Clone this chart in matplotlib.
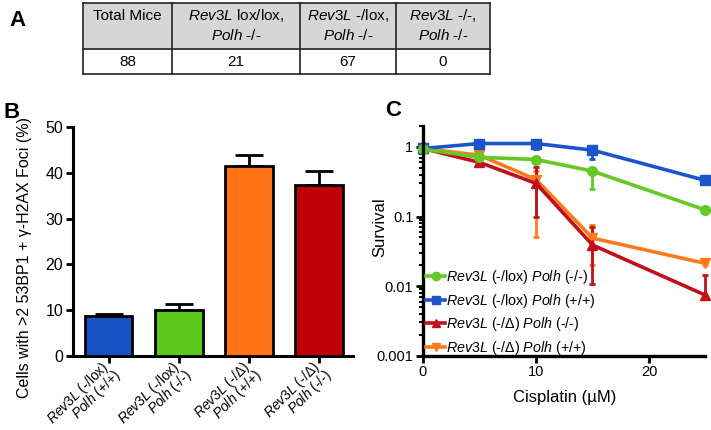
import matplotlib
matplotlib.use("Agg")
import matplotlib.pyplot as plt
from matplotlib.lines import Line2D
from matplotlib.patches import Rectangle
from matplotlib.transforms import ScaledTranslation
from matplotlib.ticker import FixedLocator, FixedFormatter, LogLocator, NullFormatter

plt.rcParams['font.family'] = ['Liberation Sans', 'DejaVu Sans']
plt.rcParams['mathtext.fontset'] = 'custom'
plt.rcParams['mathtext.rm'] = 'Liberation Sans'
plt.rcParams['mathtext.it'] = 'Liberation Sans:italic'

# ---------------------------------------------------------
# data
# ---------------------------------------------------------
# panel A: offspring genotypes
table_head_top = ["Total Mice", r"$\it{Rev3L}$ lox/lox,", r"$\it{Rev3L}$ -/lox,", r"$\it{Rev3L}$ -/-,"]
table_head_bottom = ["", r"$\it{Polh}$ -/-", r"$\it{Polh}$ -/-", r"$\it{Polh}$ -/-"]
table_counts = ["88", "21", "67", "0"]

# panel B: foci (two-line genotype labels)
bar_labels_rev3l = [r"$\it{Rev3L}$ (-/lox)", r"$\it{Rev3L}$ (-/lox)",
                    r"$\it{Rev3L}$ (-/$\Delta$)", r"$\it{Rev3L}$ (-/$\Delta$)"]
bar_labels_polh = [r"$\it{Polh}$ (+/+)", r"$\it{Polh}$ (-/-)",
                   r"$\it{Polh}$ (+/+)", r"$\it{Polh}$ (-/-)"]
bar_values = [8.8, 10.0, 41.4, 37.3]
bar_errors = [0.4, 1.3, 2.4, 3.0]
bar_colors = ["#1552c2", "#5cc81b", "#ff7216", "#c00008"]

# panel C: cisplatin survival
dose = [0, 5, 10, 15, 25]
green_surv = [0.93, 0.71, 0.66, 0.45, 0.124]
green_lo = [0.90, 0.68, 0.63, 0.25, 0.12]
green_hi = [0.96, 0.74, 0.69, 0.49, 0.128]
blue_surv = [0.95, 1.12, 1.12, 0.90, 0.33]
blue_lo = [0.92, 1.02, 0.93, 0.68, 0.32]
blue_hi = [0.98, 1.20, 1.25, 1.02, 0.35]
red_surv = [0.95, 0.60, 0.30, 0.039, 0.0074]
red_lo = [0.92, 0.55, 0.10, 0.0107, 0.0068]
red_hi = [0.98, 0.65, 0.52, 0.070, 0.0145]
orange_surv = [0.95, 0.76, 0.34, 0.049, 0.0212]
orange_lo = [0.92, 0.72, 0.05, 0.020, 0.020]
orange_hi = [0.98, 0.80, 0.45, 0.075, 0.0225]
surv_labels = [r"$\it{Rev3L}$ (-/lox) $\it{Polh}$ (-/-)",
               r"$\it{Rev3L}$ (-/lox) $\it{Polh}$ (+/+)",
               r"$\it{Rev3L}$ (-/$\Delta$) $\it{Polh}$ (-/-)",
               r"$\it{Rev3L}$ (-/$\Delta$) $\it{Polh}$ (+/+)"]

W, H = 711, 430
fig = plt.figure(figsize=(W / 100, H / 100), dpi=100)

# overlay in pixel coordinates for the table and panel letters
ov = fig.add_axes([0, 0, 1, 1])
ov.set_xlim(0, W)
ov.set_ylim(H, 0)
ov.axis("off")

# ---------------------------------------------------------
# A. table
# ---------------------------------------------------------
col_edges = [83, 172, 300, 396, 490]
top, mid, bot = 3, 49, 74
ov.add_patch(Rectangle((col_edges[0], top), col_edges[-1] - col_edges[0], mid - top,
                       facecolor="#d6d6d6", edgecolor="none"))
for x in col_edges:
    ov.plot([x, x], [top, bot], color="#222222", lw=1.2)
for y in (top, mid, bot):
    ov.plot([col_edges[0], col_edges[-1]], [y, y], color="#222222", lw=1.2)
for i in range(4):
    cx = (col_edges[i] + col_edges[i + 1]) / 2
    ov.text(cx, 16, table_head_top[i], ha="center", va="center", fontsize=11)
    if table_head_bottom[i]:
        ov.text(cx, 35, table_head_bottom[i], ha="center", va="center", fontsize=11)
    ov.text(cx, 62, table_counts[i], ha="center", va="center", fontsize=11)

ov.text(17, 20, "A", fontsize=16, fontweight="bold", ha="center", va="center")
ov.text(12, 113, "B", fontsize=16, fontweight="bold", ha="center", va="center")
ov.text(393, 111, "C", fontsize=16, fontweight="bold", ha="center", va="center")

# ---------------------------------------------------------
# B. bar chart
# ---------------------------------------------------------
axb = fig.add_axes([73 / W, 1 - 356 / H, (353 - 73) / W, (356 - 127) / H])
pos = list(range(len(bar_values)))
axb.bar(pos, bar_values, width=0.68, color=bar_colors, edgecolor="black", linewidth=2, zorder=3)
axb.errorbar(pos, bar_values, yerr=[[0] * 4, bar_errors], fmt="none", ecolor="black",
             elinewidth=2, capsize=10, capthick=2, zorder=2)
axb.set_xlim(-0.506, 3.48)
axb.set_ylim(0, 50)
axb.set_yticks([0, 10, 20, 30, 40, 50])
axb.set_xticks(pos)
axb.set_xticklabels([])
# rotated labels, one text per line so each box stays tight
tr1 = axb.get_xaxis_transform() + ScaledTranslation(-8 / 100, -2 / 100, fig.dpi_scale_trans)
tr2 = axb.get_xaxis_transform() + ScaledTranslation(4 / 100, -10 / 100, fig.dpi_scale_trans)
for p, l1, l2 in zip(pos, bar_labels_rev3l, bar_labels_polh):
    axb.text(p, 0, l1, transform=tr1, rotation=45, ha="right", va="top",
             rotation_mode="anchor", fontsize=10, clip_on=False)
    axb.text(p, 0, l2, transform=tr2, rotation=45, ha="right", va="top",
             rotation_mode="anchor", fontsize=10, clip_on=False)
for s in ("top", "right"):
    axb.spines[s].set_visible(False)
for s in ("left", "bottom"):
    axb.spines[s].set_linewidth(2.2)
axb.tick_params(axis="both", width=2, length=5, labelsize=11.5, pad=2)
axb.set_ylabel("Cells with >2 53BP1 + \u03b3-H2AX Foci (%)", fontsize=11.5)
axb.yaxis.set_label_coords(-0.147, 0.43)

# ---------------------------------------------------------
# C. survival curves
# ---------------------------------------------------------
axc = fig.add_axes([423 / W, 1 - 355.7 / H, (705.5 - 423) / W, (355.7 - 126) / H])
series = [
    (orange_surv, orange_lo, orange_hi, "#ff7a1c", "v"),
    (red_surv, red_lo, red_hi, "#c0101c", "^"),
    (blue_surv, blue_lo, blue_hi, "#1a56c8", "s"),
    (green_surv, green_lo, green_hi, "#66c824", "o"),
]
for vals, lo, hi, col, mk in series:
    yerr = [[v - l for v, l in zip(vals, lo)], [h - v for v, h in zip(vals, hi)]]
    h = axc.errorbar(dose, vals, yerr=yerr, color=col, marker=mk, markersize=7,
                     lw=2.6, elinewidth=2, capsize=2.5, capthick=2, clip_on=False)
    for art in list(h.lines[1]) + list(h.lines[2]):
        art.set_clip_on(False)
axc.set_yscale("log")
axc.set_xlim(0, 25)
axc.set_ylim(0.001, 2)
axc.xaxis.set_major_locator(FixedLocator([0, 10, 20]))
axc.yaxis.set_major_locator(FixedLocator([0.001, 0.01, 0.1, 1]))
axc.yaxis.set_major_formatter(FixedFormatter(["0.001", "0.01", "0.1", "1"]))
axc.yaxis.set_minor_locator(LogLocator(base=10, subs=range(2, 10)))
axc.yaxis.set_minor_formatter(NullFormatter())
for s in ("top", "right"):
    axc.spines[s].set_visible(False)
for s in ("left", "bottom"):
    axc.spines[s].set_linewidth(2.4)
axc.tick_params(axis="both", which="major", width=2, length=5, labelsize=10.5, pad=2)
axc.tick_params(axis="y", which="minor", width=1.5, length=3)
axc.set_ylabel("Survival", fontsize=12)
axc.yaxis.set_label_coords(-0.127, 0.56)
axc.set_xlabel("Cisplatin (\u00b5M)", fontsize=12)
axc.xaxis.set_label_coords(0.5, -0.15)

leg_style = [("#66c824", "o"), ("#1a56c8", "s"), ("#c0101c", "^"), ("#ff7a1c", "v")]
leg_handles = [Line2D([], [], color=c, marker=m, markersize=6, lw=2.6) for c, m in leg_style]
axc.legend(leg_handles, surv_labels, loc="center left",
           bbox_to_anchor=(0.012, 0.188), frameon=False, fontsize=10.3,
           handlelength=1.3, handletextpad=0.1, labelspacing=0.38,
           borderpad=0, borderaxespad=0)

fig.savefig("out.png", dpi=100)
